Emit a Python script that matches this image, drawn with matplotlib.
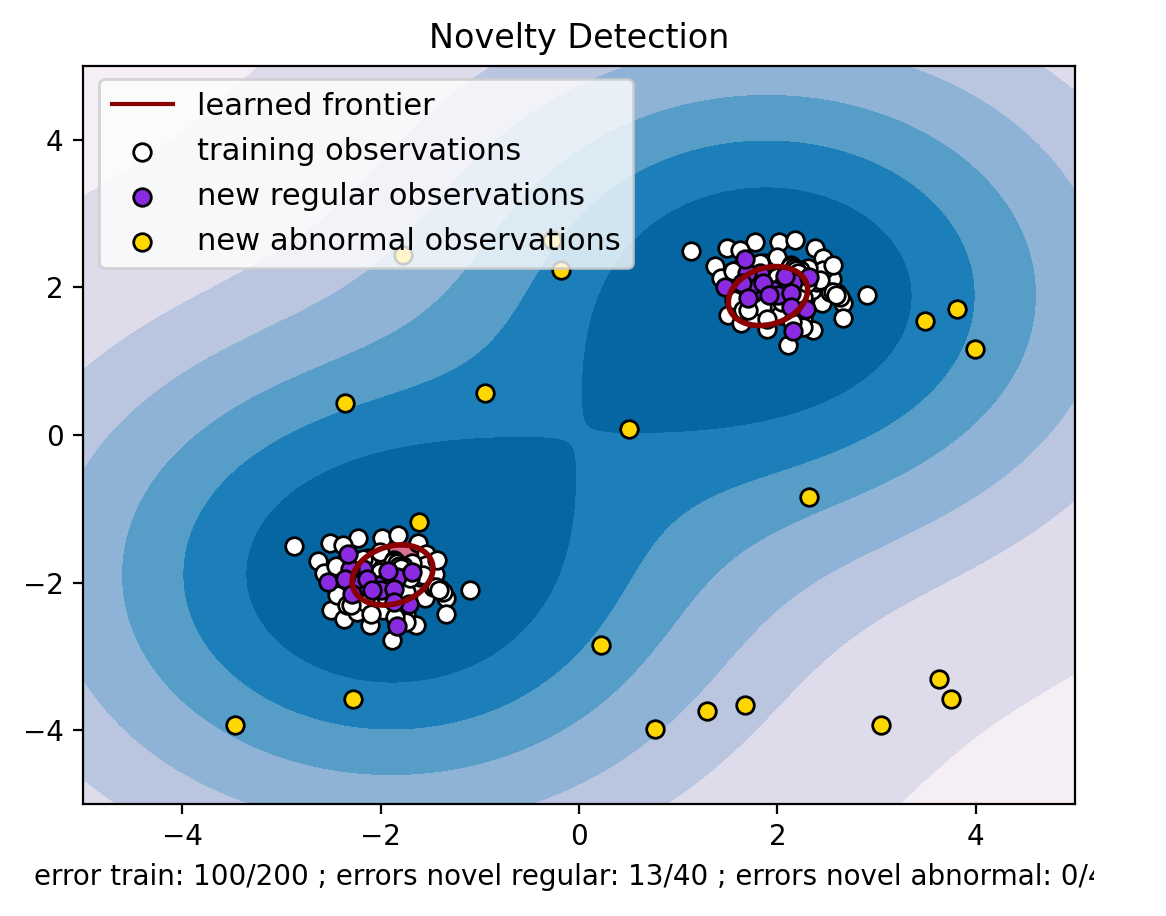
import numpy as np
import matplotlib
matplotlib.use("Agg")
import matplotlib.pyplot as plt
from matplotlib.lines import Line2D
from matplotlib.transforms import Bbox

# offsets of the observations around each cluster centre
train_dx = [-0.874,-0.511,-0.226,0.016,0.177,0.379,0.456,-0.629,-0.569,0.547,0.456,0.900,0.658,0.658,
            0.379,0.446,0.597,-0.495,-0.370,-0.108,0.110,0.355,0.261,-0.236,-0.058,-0.159,-0.437,
            -0.125,-0.007,0.140,0.312,-0.377,0.564,0.261,0.026,-0.343,0.631,0.530,
            0.127,-0.007,-0.175,-0.377,0.346,0.396,0.261,0.430,0.228,-0.300,-0.450,0.050,0.150,-0.100,
            0.170,0.190,0.210,0.280,0.300,0.560,0.590]
train_dy = [0.498,0.530,0.611,0.611,0.642,0.530,0.394,0.290,0.132,0.110,0.236,-0.103,-0.207,-0.419,
            -0.080,-0.207,-0.080,-0.378,-0.487,-0.568,-0.780,-0.577,-0.419,-0.396,-0.329,-0.261,-0.171,
            0.335,0.417,0.300,0.259,0.507,0.304,-0.532,-0.374,-0.306,-0.134,-0.060,
            0.280,0.145,0.326,0.258,-0.035,0.078,-0.125,0.100,0.230,-0.300,0.220,-0.200,-0.470,-0.430,
            0.260,0.230,0.200,0.090,0.060,-0.060,-0.100]
regular_dx = [0.060,-0.041,-0.243,0.161,0.009,-0.259,-0.175,-0.310,-0.142,0.137,
              -0.327,-0.528,-0.360,0.285,0.161,0.077,0.319,0.134,-0.293,-0.085]
regular_dy = [0.033,-0.035,-0.080,0.078,-0.103,0.033,0.190,0.190,0.055,-0.080,
              0.385,0.010,0.055,-0.293,-0.586,0.159,0.145,-0.261,-0.148,-0.103]
abnormal_x = [-1.77,-0.27,-0.18,-2.36,-0.95,0.50,3.49,3.81,3.99,2.32,
              -1.61,0.22,-2.28,-3.47,0.77,1.29,1.67,3.04,3.63,3.75]
abnormal_y = [2.44,2.64,2.24,0.43,0.57,0.08,1.54,1.71,1.17,-0.84,
              -1.18,-2.85,-3.58,-3.93,-3.98,-3.74,-3.66,-3.93,-3.31,-3.58]
cluster_shift = [2.0, -2.0]
labels = ["learned frontier", "training observations",
          "new regular observations", "new abnormal observations"]
caption = "error train: 100/200 ; errors novel regular: 13/40 ; errors novel abnormal: 0/40"

# decision surface: RBF kernels on the two clusters, band edges
centres = [(1.9, 1.9), (-1.9, -1.9)]
gamma = 0.135
band_edges = [0.0091, 0.098, 0.21, 0.374, 0.558, 0.757]
band_colors = ["#f5eef5", "#dedbeb", "#bac6e0", "#8eb3d7", "#569dc8", "#1c7fb9", "#0566a1"]
frontier_centres = [(1.905, 1.883), (-1.88, -1.897)]
frontier_axes = [(0.44, 0.355), (0.45, 0.36)]

xx, yy = np.meshgrid(np.linspace(-5, 5, 500), np.linspace(-5, 5, 500))
Z = sum(np.exp(-gamma * ((xx - cx) ** 2 + (yy - cy) ** 2)) for cx, cy in centres)
levels = [Z.min()] + band_edges + [Z.max() + 1e-6]

u = (xx + yy) / np.sqrt(2)
v = (yy - xx) / np.sqrt(2)
F = np.full_like(xx, 1e9)
for (cx, cy), (a, b) in zip(frontier_centres, frontier_axes):
    uc, vc = (cx + cy) / np.sqrt(2), (cy - cx) / np.sqrt(2)
    F = np.minimum(F, ((u - uc) / a) ** 2 + ((v - vc) / b) ** 2 - 1)

fig = plt.figure(figsize=(5.83, 4.58), dpi=200)
W, H = 1166, 916
ax = fig.add_axes([83 / W, (H - 804) / H, (1075 - 83) / W, (804 - 66) / H])

ax.contourf(xx, yy, Z, levels=levels, colors=band_colors, zorder=0)
ax.contourf(xx, yy, F, levels=[F.min(), 0], colors="palevioletred", zorder=1)
ax.contour(xx, yy, F, levels=[0], linewidths=2, colors="darkred", zorder=2)

tx = np.array(train_dx)
ty = np.array(train_dy)
rx = np.array(regular_dx)
ry = np.array(regular_dy)
s = 40
b1 = ax.scatter(np.r_[tx + cluster_shift[0], tx + cluster_shift[1]],
                np.r_[ty + cluster_shift[0], ty + cluster_shift[1]],
                c="white", s=s, edgecolors="k", zorder=1)
b2 = ax.scatter(np.r_[rx + cluster_shift[0], rx + cluster_shift[1]],
                np.r_[ry + cluster_shift[0], ry + cluster_shift[1]],
                c="blueviolet", s=s, edgecolors="k", zorder=1)
c = ax.scatter(abnormal_x, abnormal_y, c="gold", s=s, edgecolors="k", zorder=1)

ax.set_xlim(-5, 5)
ax.set_ylim(-5, 5)
ax.set_title("Novelty Detection", pad=6.4)
line = Line2D([], [], color="darkred", lw=1.5)
ax.legend([line, b1, b2, c], labels, loc="upper left", prop={"size": 11},
          labelspacing=0.53, bbox_to_anchor=(0.0012, 1.0027))
xl = ax.set_xlabel(caption)
xl.set_clip_box(Bbox([[0, 0], [1094, 916]]))
xl.set_clip_on(True)

fig.savefig("out.png", dpi=200)
